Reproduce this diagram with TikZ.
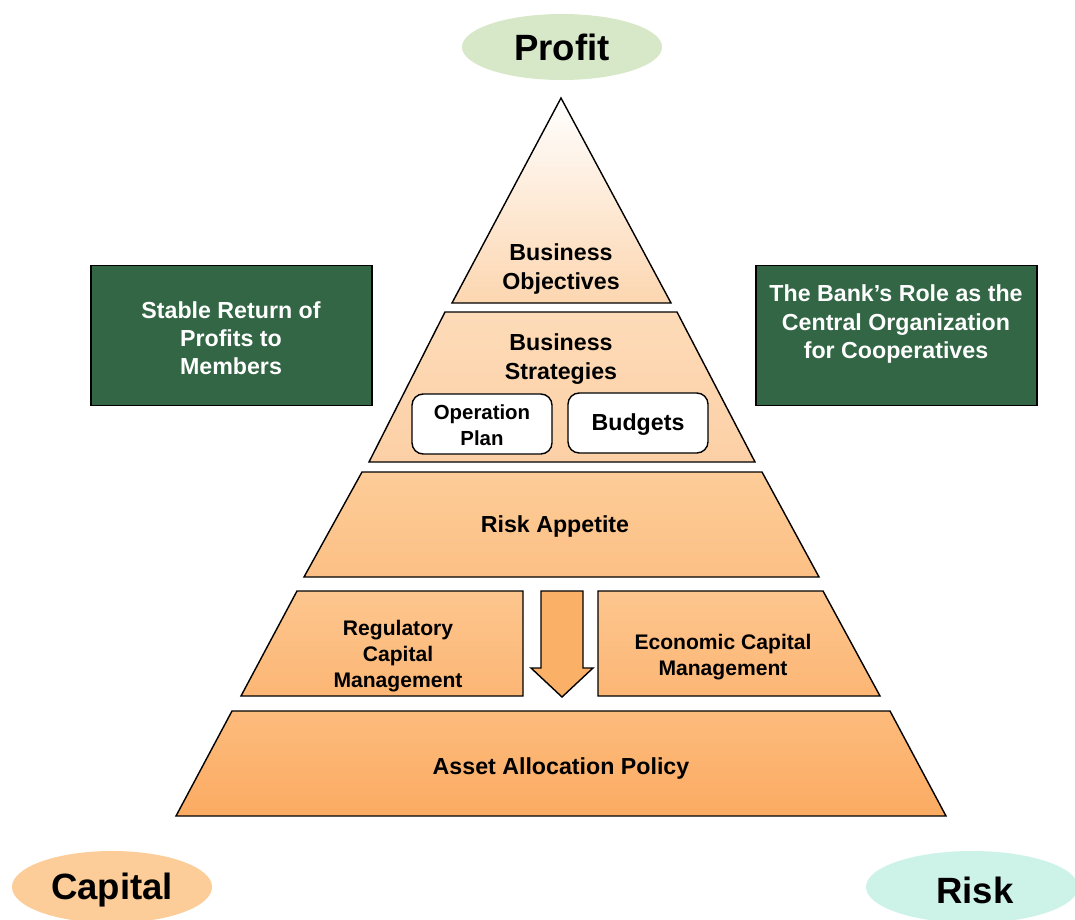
\documentclass[tikz,border=0pt]{standalone}
\usepackage{fontspec}
\setmainfont{Liberation Sans}
\usetikzlibrary{shapes.geometric,positioning}

\definecolor{boxgreen}{RGB}{50,102,68}
\definecolor{profitgreen}{RGB}{215,232,200}
\definecolor{capitalpeach}{RGB}{252,204,153}
\definecolor{riskmint}{RGB}{205,243,233}
\definecolor{arrowfill}{RGB}{251,176,104}

\begin{document}
\begin{tikzpicture}[x=0.025cm, y=-0.025cm,
    layer/.style={draw=black, line width=1pt},
    txt/.style={font=\fontsize{16.5}{20}\selectfont\bfseries, align=center},
    smalltxt/.style={font=\fontsize{15}{18.5}\selectfont\bfseries, align=center},
    bigtxt/.style={font=\fontsize{26}{30}\selectfont\bfseries},
    goal/.style={ellipse, minimum width=5cm, minimum height=1.65cm, inner sep=0pt},
    sidebox/.style={draw=black, line width=0.8pt, fill=boxgreen, text=white,
        minimum width=7.025cm, minimum height=3.5cm, inner sep=0pt},
    subbox/.style={draw=black, line width=1pt, fill=white, rounded corners=8pt,
        minimum width=3.5cm, minimum height=1.5cm, inner sep=0pt}]
    \useasboundingbox (0,0) rectangle (1075,919);

    % Pyramid layers
    \shade[layer, top color=white, bottom color={rgb,255:red,252;green,214;blue,176}]
        (452,303) -- (561,98) -- (671,303) -- cycle;
    \shade[layer, top color={rgb,255:red,253;green,219;blue,184}, bottom color={rgb,255:red,252;green,208;blue,166}]
        (445,312) -- (677,312) -- (755,462) -- (369,462) -- cycle;
    \shade[layer, top color={rgb,255:red,253;green,204;blue,152}, bottom color={rgb,255:red,252;green,192;blue,133}]
        (362,472) -- (762,472) -- (819,577) -- (304,577) -- cycle;
    \shade[layer, top color={rgb,255:red,253;green,198;blue,142}, bottom color={rgb,255:red,252;green,182;blue,117}]
        (297,591) -- (523,591) -- (523,696) -- (241,696) -- cycle;
    \shade[layer, top color={rgb,255:red,253;green,198;blue,142}, bottom color={rgb,255:red,252;green,182;blue,117}]
        (598,591) -- (823,591) -- (880,696) -- (598,696) -- cycle;
    \shade[layer, top color={rgb,255:red,253;green,187;blue,124}, bottom color={rgb,255:red,251;green,171;blue,98}]
        (232,711) -- (890,711) -- (946,816) -- (176,816) -- cycle;

    % Down arrow
    \draw[layer, fill=arrowfill] (541,591) -- (583,591) -- (583,668) -- (593,668)
        -- (562,697) -- (531,668) -- (541,668) -- cycle;

    % Labels
    \node[txt] (objectives) at (561,269) {Business\\Objectives};
    \node[txt] (strategies) at (561,359) {Business\\Strategies};
    \node[subbox] (opplan) at (482,424) {};
    \node[font=\fontsize{14.5}{18.5}\selectfont\bfseries, align=center] (opplantxt) at (482,425) {Operation\\Plan};
    \node[subbox] (budgets) at (638,423) {};
    \node[txt] (budgetstxt) at (638,425) {Budgets};
    \node[txt] (appetite) at (555,526) {Risk Appetite};
    \node[smalltxt] (regulatory) at (398,656) {Regulatory\\Capital\\Management};
    \node[smalltxt] (economic) at (723,657) {Economic Capital\\Management};
    \node[txt] (allocation) at (561,768) {Asset Allocation Policy};

    % Side boxes
    \node[sidebox] (stable) at (231.5,335.5) {};
    \node[txt, text=white] (stabletxt) at (231,338) {Stable Return of\\Profits to\\Members};
    \node[sidebox] (bankrole) at (896.5,335.5) {};
    \node[txt, text=white] (bankroletxt) at (896,324) {The Bank’s Role as the\\Central Organization\\for Cooperatives};

    % Corners
    \node[goal, fill=profitgreen] (profit) at (562,47) {};
    \node[bigtxt] (profittxt) at (profit) {Profit};
    \node[goal, fill=capitalpeach, minimum height=1.8cm] (capital) at (112,887) {};
    \node[bigtxt] (capitaltxt) at (112,890) {Capital};
    \node[goal, fill=riskmint, minimum width=5.3cm, minimum height=1.8cm] (risk) at (972,887) {};
    \node[bigtxt] (risktxt) at (975,890) {Risk};
\end{tikzpicture}
\end{document}
